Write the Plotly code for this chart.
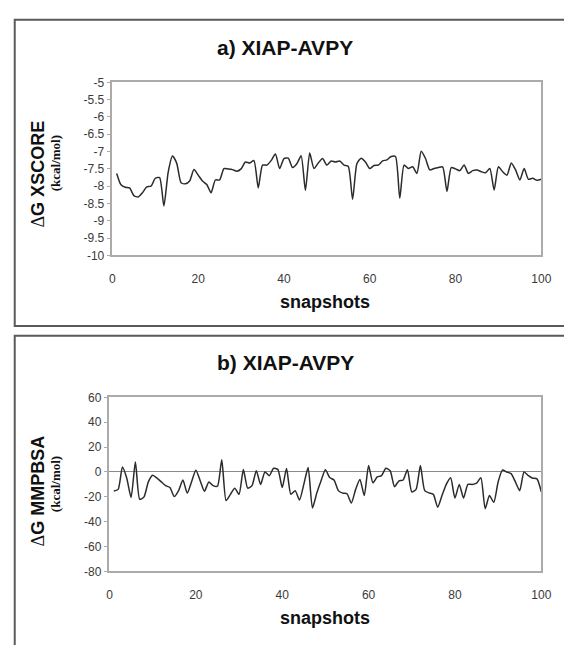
import plotly.graph_objects as go

W, H = 564, 645

snapshots = list(range(1, 101))

dg_xscore = [
    -7.63, -7.96, -8.03, -8.05, -8.27, -8.31, -8.19, -8.02, -8.00, -7.77,
    -7.75, -8.57, -7.60, -7.13, -7.34, -7.90, -7.93, -7.85, -7.52, -7.68,
    -7.85, -7.95, -8.19, -7.82, -7.82, -7.49, -7.50, -7.52, -7.57, -7.50,
    -7.30, -7.33, -7.26, -8.05, -7.39, -7.39, -7.26, -7.07, -7.49, -7.20,
    -7.19, -7.46, -7.35, -7.12, -8.12, -7.04, -7.49, -7.33, -7.20, -7.39,
    -7.27, -7.30, -7.27, -7.39, -7.43, -8.38, -7.35, -7.19, -7.30, -7.49,
    -7.40, -7.39, -7.27, -7.24, -7.14, -7.14, -8.35, -7.39, -7.49, -7.44,
    -7.63, -6.99, -7.20, -7.53, -7.49, -7.46, -7.44, -8.15, -7.46, -7.50,
    -7.55, -7.39, -7.63, -7.55, -7.53, -7.58, -7.61, -7.49, -8.11, -7.44,
    -7.58, -7.68, -7.33, -7.53, -7.82, -7.49, -7.80, -7.77, -7.83, -7.80,
]

dg_mmpbsa = [
    -15.3, -14.0, 4.0, -5.0, -20.5, 8.0, -22.0, -20.0, -8.0, -2.7,
    -5.0, -8.0, -11.0, -12.5, -19.8, -15.0, -6.5, -17.0, -8.0, 1.3,
    -7.0, -15.5, -8.0, -11.0, -11.5, 9.8, -23.0, -18.0, -13.0, -18.0,
    2.0, -13.0, -11.0, 1.0, -10.0, 0.0, -3.0, 3.0, 2.0, -12.5,
    2.7, -18.0, -15.0, -22.5, -10.0, 3.5, -29.0, -17.0, -7.0, 1.8,
    -4.5, -6.5, -15.0, -17.0, -17.5, -25.0, -14.0, -6.0, -19.0, 5.2,
    -8.7, -4.0, -3.0, 3.0, 1.0, -11.8, -7.3, -6.5, 1.8, -16.0,
    -14.0, 5.2, -15.0, -16.8, -18.0, -28.3, -19.0, -10.0, -4.7, -21.0,
    -10.0, -21.0, -10.0, -10.0, -9.0, -4.7, -29.5, -19.0, -24.4, -8.0,
    1.5, 0.0, -1.3, -8.0, -15.0, 0.0, -3.0, -5.0, -5.5, -16.0,
]

xscore_ticks = [-5, -5.5, -6, -6.5, -7, -7.5, -8, -8.5, -9, -9.5, -10]
mmpbsa_ticks = [60, 40, 20, 0, -20, -40, -60, -80]
x_ticks = [0, 20, 40, 60, 80, 100]

panel_titles = ["a) XIAP-AVPY", "b) XIAP-AVPY"]
y_titles = ["G XSCORE", "G MMPBSA"]
unit_label = "(kcal/mol)"
x_title = "snapshots"

LINE = "#2b2b2b"
FRAME = "#ababab"
TICKTXT = "#3a3a3a"
SANS = "Liberation Sans, Arial, sans-serif"
SERIF = "Liberation Serif, Times New Roman, serif"


def px(x):
    return x / W


def py(y):
    return 1 - y / H


def labels(vals):
    # plain hyphen-minus, as in spreadsheet output
    return [f"{v:g}" for v in vals]


fig = go.Figure()
for xs, ys, xa, ya in [(snapshots, dg_xscore, "x", "y"),
                       (snapshots, dg_mmpbsa, "x2", "y2")]:
    fig.add_trace(go.Scatter(x=xs, y=ys, mode="lines",
                             line=dict(color=LINE, width=1.5, shape="spline",
                                       smoothing=0.6),
                             xaxis=xa, yaxis=ya, showlegend=False))

axis_common = dict(showgrid=False, showline=True, linecolor=FRAME, linewidth=1.5,
                   mirror=True, tickfont=dict(family=SANS, size=12, color=TICKTXT))

fig.update_layout(
    width=W, height=H,
    margin=dict(l=0, r=0, t=0, b=0),
    paper_bgcolor="white", plot_bgcolor="white",
    xaxis=dict(domain=[px(112), px(551)], range=[0, 100], tickvals=x_ticks,
               ticktext=labels(x_ticks), ticks="", ticklabelstandoff=11,
               zeroline=False, anchor="y", **axis_common),
    yaxis=dict(domain=[py(254), py(77)], range=[-10, -5], tickvals=xscore_ticks,
               ticktext=labels(xscore_ticks),
               ticks="outside", ticklen=4, tickcolor=FRAME, zeroline=False,
               anchor="x", **axis_common),
    xaxis2=dict(domain=[px(109), px(551)], range=[0, 100], tickvals=x_ticks,
                ticktext=labels(x_ticks), ticks="", ticklabelstandoff=11,
                zeroline=False, anchor="y2", **axis_common),
    yaxis2=dict(domain=[py(577), py(399)], range=[-80, 60], tickvals=mmpbsa_ticks,
                ticktext=labels(mmpbsa_ticks),
                ticks="outside", ticklen=4, tickcolor=FRAME, zeroline=True,
                zerolinecolor="#8a8a8a", zerolinewidth=1.2, anchor="x2",
                **axis_common),
    # short marks hanging from the top frame of the upper plot
    xaxis3=dict(domain=[px(112), px(551)], range=[0, 100], overlaying="x",
                side="top", anchor="y", tickvals=[20, 40, 60, 80], ticks="inside",
                ticklen=3, tickcolor=FRAME, showticklabels=False, showline=False,
                showgrid=False, zeroline=False),
)

# panel frames
for top, bottom in [(13, 326), (336, 660)]:
    fig.add_shape(type="rect", xref="paper", yref="paper",
                  x0=px(12), x1=px(580), y0=py(bottom), y1=py(top),
                  line=dict(color="#5a5a5a", width=2), fillcolor="rgba(0,0,0,0)")

layout_text = [
    # (text, x, y, size, angle, family)
    (f"<b>{panel_titles[0]}</b>", 289, 41, 21, 0, SANS),
    (f"<b>{panel_titles[1]}</b>", 289, 363, 21, 0, SANS),
    (f"<b>{x_title}</b>", 330, 302, 18, 0, SANS),
    (f"<b>{x_title}</b>", 330, 625, 18, 0, SANS),
    (f"<span style='font-family:{SERIF};font-weight:normal'>Δ</span><b>{y_titles[0]}</b>",
     36, 171, 18, -90, SANS),
    (f"<span style='font-family:{SERIF};font-weight:normal'>Δ</span><b>{y_titles[1]}</b>",
     36, 495, 18, -90, SANS),
    (f"<b>{unit_label}</b>", 54, 160, 13, -90, SERIF),
    (f"<b>{unit_label}</b>", 54, 488, 13, -90, SERIF),
]
for text, x, y, size, angle, fam in layout_text:
    fig.add_annotation(text=text, xref="paper", yref="paper", x=px(x), y=py(y),
                       xanchor="center", yanchor="middle", showarrow=False,
                       textangle=angle, font=dict(family=fam, size=size, color="#111111"))

fig.write_html("out.html")
